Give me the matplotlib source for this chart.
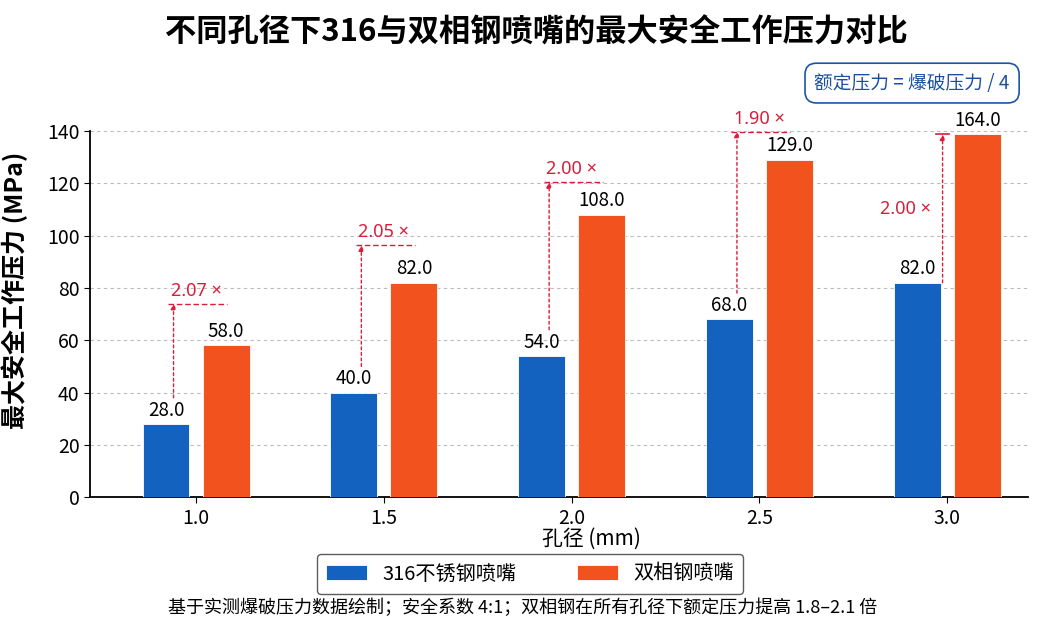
import numpy as np
import matplotlib
matplotlib.use("Agg")
import matplotlib.pyplot as plt

plt.rcParams['font.family'] = ['Noto Sans CJK SC', 'DejaVu Sans']
plt.rcParams['axes.unicode_minus'] = False

# 数据
孔径 = ["1.0", "1.5", "2.0", "2.5", "3.0"]
压力_316 = [28.0, 40.0, 54.0, 68.0, 82.0]
压力_双相 = [58.0, 82.0, 108.0, 129.0, 164.0]
倍数 = ["2.07×", "2.05×", "2.00×", "1.90×", "2.00×"]

c_316 = "#1462C0"
c_dup = "#F2521E"
c_red = "#D81E3A"
ymax = 140

fig = plt.figure(figsize=(10.4, 6.2), dpi=100)
ax = fig.add_axes([0.0865, 0.198, 0.902, 0.591])

x = np.arange(len(孔径))
w = 0.25
off = 0.16
h_dup = [min(v, ymax * 0.99) for v in 压力_双相]

ax.bar(x - off, 压力_316, w, color=c_316, edgecolor="white", linewidth=0.6, label="316不锈钢喷嘴", zorder=3)
ax.bar(x + off, h_dup, w, color=c_dup, edgecolor="white", linewidth=0.6, label="双相钢喷嘴", zorder=3)

# 数值标签
for i in range(len(x)):
    ax.text(x[i] - off, 压力_316[i] + 1.3, f"{压力_316[i]:.1f}", ha="center", va="bottom", fontsize=13.5)
    ax.text(x[i] + off, h_dup[i] + 1.3, f"{压力_双相[i]:.1f}", ha="center", va="bottom", fontsize=13.5, clip_on=False)

# 倍数箭头
arrow_kw = dict(arrowstyle="-|>", color=c_red, lw=1, linestyle=(0, (2, 2)), mutation_scale=8, shrinkA=0, shrinkB=0)
for i in range(len(x)):
    if 压力_双相[i] > ymax:
        xa = x[i] - off + w / 2 + 0.01
        y0 = 压力_316[i]
        top = h_dup[i]
        ax.annotate("", xy=(xa, top), xytext=(xa, y0), arrowprops=arrow_kw, zorder=4)
        ax.plot([xa - 0.035, xa + 0.035], [top, top], color=c_red, lw=1.2, zorder=4)
        ax.text(xa - 0.06, (y0 + top) / 2, 倍数[i].replace("×", " ×"), color=c_red, ha="right", va="center",
                fontsize=13, family=["Noto Sans", "DejaVu Sans"])
    else:
        xa = x[i] - off + 0.04
        y0 = 压力_316[i] + 10
        top = min(压力_双相[i] * 0.93 + 20, ymax - 0.3)
        ax.annotate("", xy=(xa, top), xytext=(xa, y0), arrowprops=arrow_kw, zorder=4, annotation_clip=False)
        ax.plot([x[i] - 0.15, x[i] + 0.165], [top, top], color=c_red, lw=1, ls=(0, (4, 2)), zorder=4, clip_on=False)
        ax.text(x[i], top + 1.5, 倍数[i].replace("×", " ×"), color=c_red, ha="center", va="bottom",
                fontsize=13, family=["Noto Sans", "DejaVu Sans"])

ax.set_xlim(-0.565, 4.43)
ax.set_ylim(0, ymax)
ax.set_yticks(np.arange(0, 141, 20))
ax.set_xticks(x)
ax.set_xticklabels(孔径)
ax.tick_params(axis="both", labelsize=14, length=4)
ax.yaxis.grid(True, linestyle=(0, (3, 3)), color="#BBBBBB", linewidth=0.8, zorder=0)
ax.set_axisbelow(True)
for s in ["top", "right"]:
    ax.spines[s].set_visible(False)
ax.spines["left"].set_linewidth(1.3)
ax.spines["bottom"].set_linewidth(1.3)

ax.set_ylabel("最大安全工作压力 (MPa)", fontsize=18, fontweight="bold")
ax.yaxis.set_label_coords(-0.066, 0.565)
ax.set_xlabel("孔径 (mm)", fontsize=15, labelpad=2)
ax.xaxis.set_label_coords(0.535, -0.083)

fig.text(0.516, 0.948, "不同孔径下316与双相钢喷嘴的最大安全工作压力对比", ha="center", va="center",
         fontsize=22.5, fontweight="bold")

fig.text(0.877, 0.866, "额定压力 = 爆破压力 / 4", ha="center", va="center", fontsize=13.5, color="#1B4F9E",
         bbox=dict(boxstyle="round,pad=0.5,rounding_size=0.6", fc="white", ec="#1B55A8", lw=1.2))

fig.legend(loc="upper center", bbox_to_anchor=(0.51, 0.122), ncol=2, fontsize=14.5, frameon=True,
           edgecolor="#333333", fancybox=True, handlelength=2.0, handleheight=0.8, columnspacing=3.0,
           borderpad=0.45)

fig.text(0.503, 0.02, "基于实测爆破压力数据绘制；安全系数 4:1；双相钢在所有孔径下额定压力提高 1.8–2.1 倍",
         ha="center", va="center", fontsize=13)

fig.savefig("out.png", dpi=100)
